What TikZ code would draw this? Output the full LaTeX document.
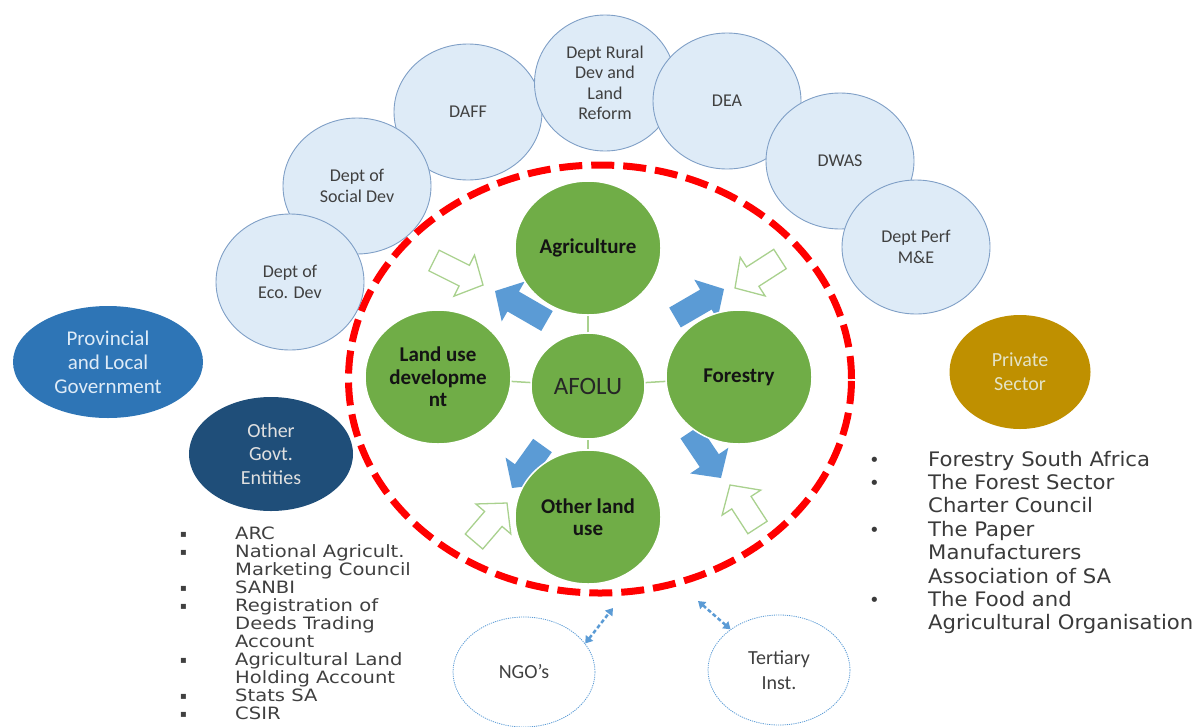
\documentclass[tikz,border=0pt]{standalone}
\usepackage{fontspec}
\setmainfont{Carlito}
\newfontfamily\listfontL[FakeStretch=1.15]{DejaVu Sans}
\newfontfamily\listfontR[FakeStretch=1.06]{DejaVu Sans}
\newfontfamily\bulletfont{DejaVu Sans}
\usetikzlibrary{shapes.geometric,calc,arrows.meta}

\definecolor{deptfill}{HTML}{DEEBF7}
\definecolor{deptline}{HTML}{7F9FC6}
\definecolor{txtgray}{HTML}{404040}
\definecolor{leaf}{HTML}{70AD47}
\definecolor{leaflight}{HTML}{A9D18E}
\definecolor{arrowblue}{HTML}{5B9BD5}
\definecolor{provblue}{HTML}{2E75B6}
\definecolor{navyblue}{HTML}{1F4E79}
\definecolor{gold}{HTML}{BF9000}

% bullet cells for the two lists
\newcommand\govbullet{\makebox[57pt][l]{\hspace*{2pt}\raisebox{2pt}{\bulletfont\fontsize{10}{10}\selectfont ▪}}}
\newcommand\govindent{\hspace*{57pt}}
\newcommand\privbullet{\makebox[59pt][l]{\bulletfont\fontsize{18}{18}\selectfont •}}
\newcommand\privindent{\hspace*{59pt}}

% block arrow: #1 style, #2 name, #3 tail, #4 tip
\newcommand\blockarrow[4]{%
  \coordinate (#2-t) at #3;
  \coordinate (#2-p) at #4;
  \coordinate (#2-h) at ($(#2-p)!21pt!(#2-t)$);
  \path[#1] ($(#2-t)!11.5pt!90:(#2-p)$) -- ($(#2-h)!11.5pt!90:(#2-p)$)
    -- ($(#2-h)!23pt!90:(#2-p)$) -- (#2-p) -- ($(#2-h)!23pt!-90:(#2-p)$)
    -- ($(#2-h)!11.5pt!-90:(#2-p)$) -- ($(#2-t)!11.5pt!-90:(#2-p)$) -- cycle;
}

\begin{document}
\begin{tikzpicture}[x=1pt,y=-1pt,
  dept/.style={ellipse, draw=deptline, fill=deptfill, line width=0.9pt,
    inner sep=0pt, text=txtgray, align=center,
    minimum width=148pt, minimum height=136pt,
    font=\fontsize{18}{20.5}\selectfont},
  group/.style={ellipse, inner sep=0pt, align=center,
    font=\fontsize{21}{24}\selectfont},
  partner/.style={ellipse, draw=arrowblue, line width=0.8pt,
    dash pattern=on 1.2pt off 1pt, inner sep=0pt, align=center,
    text=txtgray, minimum width=142pt, minimum height=110pt,
    font=\fontsize{20}{25}\selectfont},
  sector/.style={ellipse, fill=leaf, draw=white, line width=1.5pt,
    inner sep=0pt, align=center, text=black!92,
    minimum width=146pt, minimum height=134pt,
    font=\bfseries\fontsize{21}{22.5}\selectfont},
  solidarrow/.style={fill=arrowblue},
  hollowarrow/.style={draw=leaflight, fill=white, line width=1.3pt, line join=miter},
  link/.style={draw=leaflight, line width=1.5pt},
  twoway/.style={draw=arrowblue, line width=2.5pt, dash pattern=on 4pt off 2.5pt,
    {Triangle[length=7pt,width=9pt]}-{Triangle[length=7pt,width=9pt]}},
]
\useasboundingbox (0,0) rectangle (1198,726);

% national departments along the top
\node[dept] (daff) at (468,112) {DAFF};
\node[dept] (social) at (357,186) {Dept of\\Social Dev};
\node[dept] (eco) at (290,282) {Dept of\\Eco. Dev};
\node[dept, minimum width=141pt] (rural) at (605,83) {Dept Rural\\Dev and\\Land\\Reform};
\node[dept] (dea) at (727,101) {DEA};
\node[dept] (dwas) at (840,161) {DWAS};
\node[dept, minimum height=134pt] (perf) at (916,247) {Dept Perf\\M\&E};

% other stakeholder groups
\node[group, fill=provblue, text=deptfill, minimum width=190pt, minimum height=112pt]
  (prov) at (108,362) {Provincial\\and Local\\Government};
\node[group, fill=navyblue, text=black!12, minimum width=164pt, minimum height=114pt,
  font=\fontsize{20}{23.5}\selectfont]
  (othergov) at (271,454) {Other\\Govt.\\Entities};
\node[group, fill=gold, text=yellow!15!white!88!black, minimum width=141pt, minimum height=114pt,
  font=\fontsize{20}{24}\selectfont]
  (private) at (1020,372) {Private\\Sector};
\node[partner] (ngo) at (524,672) {NGO’s};
\node[partner] (tert) at (779,670) {Tertiary\\Inst.};

% AFOLU boundary
\node[ellipse, draw=red, line width=7pt, dash pattern=on 23pt off 9pt,
  minimum width=503pt, minimum height=428pt, inner sep=0pt] (ring) at (600,379) {};

% interaction arrows inside the boundary
\blockarrow{solidarrow}{b1}{(547,321)}{(495,291)}
\blockarrow{solidarrow}{b2}{(675,317.5)}{(724,289)}
\blockarrow{solidarrow}{b3}{(690,432)}{(721,478)}
\blockarrow{solidarrow}{b4}{(542.5,445.5)}{(512,488)}
\blockarrow{hollowarrow}{g1}{(434,260.5)}{(483,285)}
\blockarrow{hollowarrow}{g2}{(780,259)}{(735,288)}
\blockarrow{hollowarrow}{g3}{(757.5,527.5)}{(730,485)}
\blockarrow{hollowarrow}{g4}{(474,541.5)}{(507,503)}

% AFOLU sectors
\node[sector] (agri) at (588,248) {Agriculture};
\node[sector] (landuse) at (438,377) {Land use\\developme\\nt};
\node[sector] (forest) at (739,377) {Forestry};
\node[sector] (otherland) at (588,517) {Other land\\use};
\node[sector, minimum width=114pt, minimum height=106pt,
  font=\fontsize{25}{28}\selectfont, text=black!85] (afolu) at (588,386) {AFOLU};

\draw[link] (afolu) -- (agri);
\draw[link] (afolu) -- (landuse);
\draw[link] (afolu) -- (forest);
\draw[link] (afolu) -- (otherland);

% links of NGOs and tertiary institutions to the AFOLU boundary
\coordinate (ngoend) at (613,608);
\coordinate (tertend) at (698,601);
\draw[twoway] (ngo.25) -- (ngoend);
\draw[twoway] (tert.140) -- (tertend);

% member lists
\node[anchor=base west, inner sep=0pt, text=txtgray,
  font=\listfontL\fontsize{17}{17.6}\selectfont] (govlist) at (178,539) {%
\begin{tabular}[t]{@{}l@{}}
\govbullet ARC\\
\govbullet National Agricult.\\
\govindent Marketing Council\\
\govbullet SANBI\\
\govbullet Registration of\\
\govindent Deeds Trading\\
\govindent Account\\
\govbullet Agricultural Land\\
\govindent Holding Account\\
\govbullet Stats SA\\
\govbullet CSIR
\end{tabular}};

\node[anchor=base west, inner sep=0pt, text=txtgray!90!black,
  font=\listfontR\fontsize{20}{23.4}\selectfont] (privlist) at (869,466) {%
\begin{tabular}[t]{@{}l@{}}
\privbullet Forestry South Africa\\
\privbullet The Forest Sector\\
\privindent Charter Council\\
\privbullet The Paper\\
\privindent Manufacturers\\
\privindent Association of SA\\
\privbullet The Food and\\
\privindent Agricultural Organisation
\end{tabular}};
\end{tikzpicture}
\end{document}
